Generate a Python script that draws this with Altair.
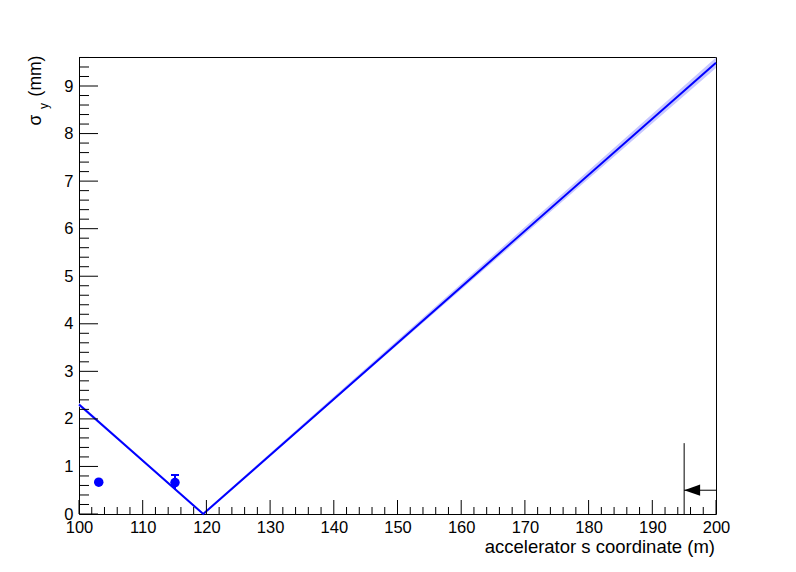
import altair as alt
import pandas as pd

# ---- data ----
s_nodes = [100.0, 119.5, 200.0]
sigma_nodes = [2.30, 0.0, 9.49]
band_lo = [2.26, 0.0, 9.38]
band_hi = [2.34, 0.03, 9.60]

meas_s = [103.1, 115.07]
meas_sigma = [0.67, 0.66]
meas_lo = [0.67, 0.52]
meas_hi = [0.67, 0.82]

aperture_s = [195.0]
aperture_bottom = [0.0]
aperture_top = [1.49]
arrow_from = [200.0]
arrow_to = [195.0]
arrow_y = [0.50]

x_major = list(range(100, 201, 10))
x_minor = [v for v in range(100, 201, 2) if v % 10 != 0]
y_major = list(range(0, 10))
y_minor = [round(i * 0.2, 1) for i in range(0, 49) if i % 5 != 0]

W, H = 637, 457
FONT = "Liberation Sans"
BLUE = "#0000ff"

xs = alt.Scale(domain=[100, 200], nice=False, zero=False, padding=0)
ys = alt.Scale(domain=[0, 9.61], nice=False, zero=False, padding=0)

curve = pd.DataFrame({"s": s_nodes, "sigma": sigma_nodes, "lo": band_lo, "hi": band_hi})
meas = pd.DataFrame({"s": meas_s, "sigma": meas_sigma, "lo": meas_lo, "hi": meas_hi})
ap = pd.DataFrame({"s": aperture_s, "bottom": aperture_bottom, "top": aperture_top})
arr = pd.DataFrame({"x1": arrow_from, "x2": arrow_to, "y": arrow_y})
xmaj = pd.DataFrame({"v": x_major})
xmin = pd.DataFrame({"v": x_minor})
ymaj = pd.DataFrame({"v": y_major})
ymin = pd.DataFrame({"v": y_minor})
one = pd.DataFrame({"t": [""]})

xaxis = alt.Axis(values=x_major, format="d", ticks=False, tickSize=0, domain=False, grid=False,
                 labelFlush=False, labelOverlap=False, labelBound=False,
                 labelPadding=5, labelFontSize=16.5, labelFont=FONT, labelColor="black", title=None)
yaxis = alt.Axis(values=y_major, format="d", ticks=False, tickSize=0, domain=False, grid=False,
                 labelFlush=False, labelOverlap=False, labelBound=False,
                 labelPadding=6, labelFontSize=16.5, labelFont=FONT, labelColor="black", title=None)

band = alt.Chart(curve).mark_area(color="#c8c8ff", opacity=1).encode(
    x=alt.X("s:Q", scale=xs, axis=xaxis),
    y=alt.Y("lo:Q", scale=ys, axis=yaxis),
    y2="hi:Q",
)
line = alt.Chart(curve).mark_line(color=BLUE, strokeWidth=2).encode(
    x=alt.X("s:Q", scale=xs), y=alt.Y("sigma:Q", scale=ys)
)
errs = alt.Chart(meas).mark_rule(color=BLUE, strokeWidth=2).encode(
    x=alt.X("s:Q", scale=xs), y=alt.Y("lo:Q", scale=ys), y2="hi:Q"
)
caps = alt.Chart(meas).mark_rule(color=BLUE, strokeWidth=2, xOffset=-4, x2Offset=4).encode(
    x=alt.X("s:Q", scale=xs), x2="s:Q", y=alt.Y("hi:Q", scale=ys)
)
pts = alt.Chart(meas).mark_point(filled=True, shape="circle", color=BLUE, size=90, opacity=1).encode(
    x=alt.X("s:Q", scale=xs), y=alt.Y("sigma:Q", scale=ys)
)
apline = alt.Chart(ap).mark_rule(color="black", strokeWidth=1).encode(
    x=alt.X("s:Q", scale=xs), y=alt.Y("bottom:Q", scale=ys), y2="top:Q"
)
shaft = alt.Chart(arr).mark_rule(color="black", strokeWidth=1).encode(
    x=alt.X("x1:Q", scale=xs), x2="x2:Q", y=alt.Y("y:Q", scale=ys)
)
head = alt.Chart(arr).mark_point(shape="M-1,0L1,-0.7L1,0.7Z", filled=True, color="black",
                                 size=256, opacity=1, xOffset=8).encode(
    x=alt.X("x2:Q", scale=xs), y=alt.Y("y:Q", scale=ys)
)

xt_maj = alt.Chart(xmaj).mark_rule(color="black", strokeWidth=1).encode(
    x=alt.X("v:Q", scale=xs), y=alt.value(H), y2=alt.value(H - 14))
xt_min = alt.Chart(xmin).mark_rule(color="black", strokeWidth=1).encode(
    x=alt.X("v:Q", scale=xs), y=alt.value(H), y2=alt.value(H - 7))
yt_maj = alt.Chart(ymaj).mark_rule(color="black", strokeWidth=1).encode(
    y=alt.Y("v:Q", scale=ys), x=alt.value(0), x2=alt.value(19))
yt_min = alt.Chart(ymin).mark_rule(color="black", strokeWidth=1).encode(
    y=alt.Y("v:Q", scale=ys), x=alt.value(0), x2=alt.value(10))

xtitle = alt.Chart(one).mark_text(text="accelerator s coordinate (m)", font=FONT, fontSize=18.5,
                                  align="right", baseline="middle", color="black").encode(
    x=alt.value(W - 1), y=alt.value(490))
yt_mm = alt.Chart(one).mark_text(text="(mm)", font=FONT, fontSize=17.5, angle=270,
                                 align="center", baseline="middle", color="black").encode(
    x=alt.value(-43), y=alt.value(19))
yt_sub = alt.Chart(one).mark_text(text="y", font=FONT, fontSize=12, angle=270,
                                  align="center", baseline="middle", color="black").encode(
    x=alt.value(-35), y=alt.value(49))
yt_sig = alt.Chart(one).mark_text(text="σ", font=FONT, fontSize=17.5, angle=270,
                                  align="center", baseline="middle", color="black").encode(
    x=alt.value(-43), y=alt.value(63))

chart = alt.layer(
    band, line, errs, caps, pts, apline, shaft, head,
    xt_maj, xt_min, yt_maj, yt_min, xtitle, yt_mm, yt_sub, yt_sig
).properties(
    width=W, height=H,
    padding={"left": 71, "top": 49, "right": 72, "bottom": 50},
    autosize=alt.AutoSizeParams(type="none"),
    background="white",
).configure_view(stroke="black", strokeWidth=1)

chart.save("out.html", embed_options={"renderer": "svg", "actions": False})
